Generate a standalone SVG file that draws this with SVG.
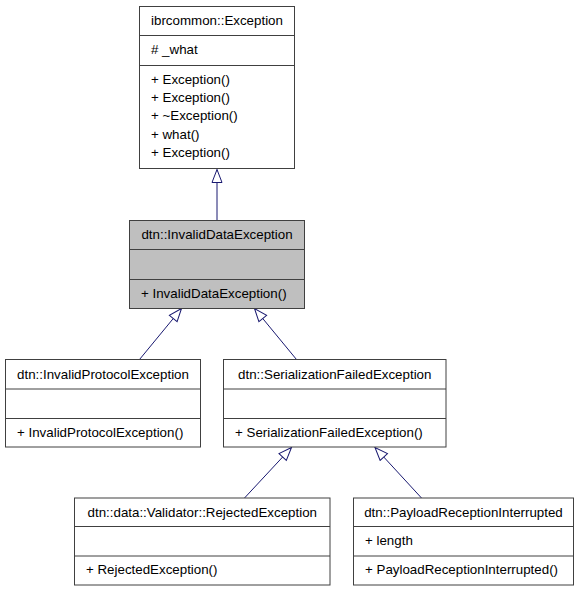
<svg xmlns="http://www.w3.org/2000/svg" width="579" height="592" viewBox="0 0 579 592">
<style>
.box{fill:#ffffff;stroke:#404040;stroke-width:1}
.cur{fill:#bfbfbf;stroke:#404040;stroke-width:1}
.div{stroke:#404040;stroke-width:1;fill:none}
text{font-family:"Liberation Sans",Arial,Helvetica,sans-serif;font-size:13.33px;fill:#000000}
.t{text-anchor:middle}
.edge{stroke:#191970;stroke-width:1;fill:none;marker-end:url(#inh)}
</style>
<defs>
<marker id="inh" markerUnits="userSpaceOnUse" viewBox="-14 -6 15 12" markerWidth="15" markerHeight="12" refX="0" refY="0" orient="auto">
<path d="M0,0 L-13,-5 L-13,5 Z" fill="#ffffff" stroke="#191970" stroke-width="1"/>
</marker>
</defs>
<g id="connectors">
<line class="edge" x1="217" y1="220" x2="217" y2="169.5"/>
<line class="edge" x1="139.5" y1="359.5" x2="181.5" y2="308.5"/>
<line class="edge" x1="296.5" y1="359.5" x2="254.5" y2="308.5"/>
<line class="edge" x1="244.5" y1="498" x2="291.5" y2="447.5"/>
<line class="edge" x1="421.5" y1="498" x2="375" y2="447.5"/>
</g>
<g id="ibrcommon_Exception">
<rect class="box" x="139.5" y="6.5" width="155" height="162"/>
<line class="div" x1="139.5" y1="35.5" x2="294.5" y2="35.5"/>
<line class="div" x1="139.5" y1="65.5" x2="294.5" y2="65.5"/>
<text class="t" x="217" y="24.5">ibrcommon::Exception</text>
<text x="151" y="53.5"># _what</text>
<text x="151" y="83.5">+ Exception()</text>
<text x="151" y="101.9">+ Exception()</text>
<text x="151" y="120.3">+ ~Exception()</text>
<text x="151" y="138.7">+ what()</text>
<text x="151" y="157.1">+ Exception()</text>
</g>
<g id="dtn_InvalidDataException">
<rect class="cur" x="129.5" y="220.5" width="175" height="88"/>
<line class="div" x1="129.5" y1="249.5" x2="304.5" y2="249.5"/>
<line class="div" x1="129.5" y1="279.5" x2="304.5" y2="279.5"/>
<text class="t" x="217" y="238.5">dtn::InvalidDataException</text>
<text x="141" y="297.5">+ InvalidDataException()</text>
</g>
<g id="dtn_InvalidProtocolException">
<rect class="box" x="5.5" y="359.5" width="195" height="87.5"/>
<line class="div" x1="5.5" y1="389" x2="200.5" y2="389"/>
<line class="div" x1="5.5" y1="418.5" x2="200.5" y2="418.5"/>
<text class="t" x="103" y="378.5">dtn::InvalidProtocolException</text>
<text x="17" y="437">+ InvalidProtocolException()</text>
</g>
<g id="dtn_SerializationFailedException">
<rect class="box" x="223.5" y="359.5" width="222.5" height="87.5"/>
<line class="div" x1="223.5" y1="389" x2="446" y2="389"/>
<line class="div" x1="223.5" y1="418.5" x2="446" y2="418.5"/>
<text class="t" x="334.75" y="378.5">dtn::SerializationFailedException</text>
<text x="235" y="437">+ SerializationFailedException()</text>
</g>
<g id="dtn_data_Validator_RejectedException">
<rect class="box" x="74.5" y="498" width="255.5" height="87"/>
<line class="div" x1="74.5" y1="526.5" x2="330" y2="526.5"/>
<line class="div" x1="74.5" y1="556" x2="330" y2="556"/>
<text class="t" x="202.25" y="516.8">dtn::data::Validator::RejectedException</text>
<text x="86" y="574">+ RejectedException()</text>
</g>
<g id="dtn_PayloadReceptionInterrupted">
<rect class="box" x="353.5" y="498" width="220" height="87"/>
<line class="div" x1="353.5" y1="526.5" x2="573.5" y2="526.5"/>
<line class="div" x1="353.5" y1="556" x2="573.5" y2="556"/>
<text class="t" x="463.5" y="516.8">dtn::PayloadReceptionInterrupted</text>
<text x="365" y="545">+ length</text>
<text x="365" y="574">+ PayloadReceptionInterrupted()</text>
</g>
</svg>
